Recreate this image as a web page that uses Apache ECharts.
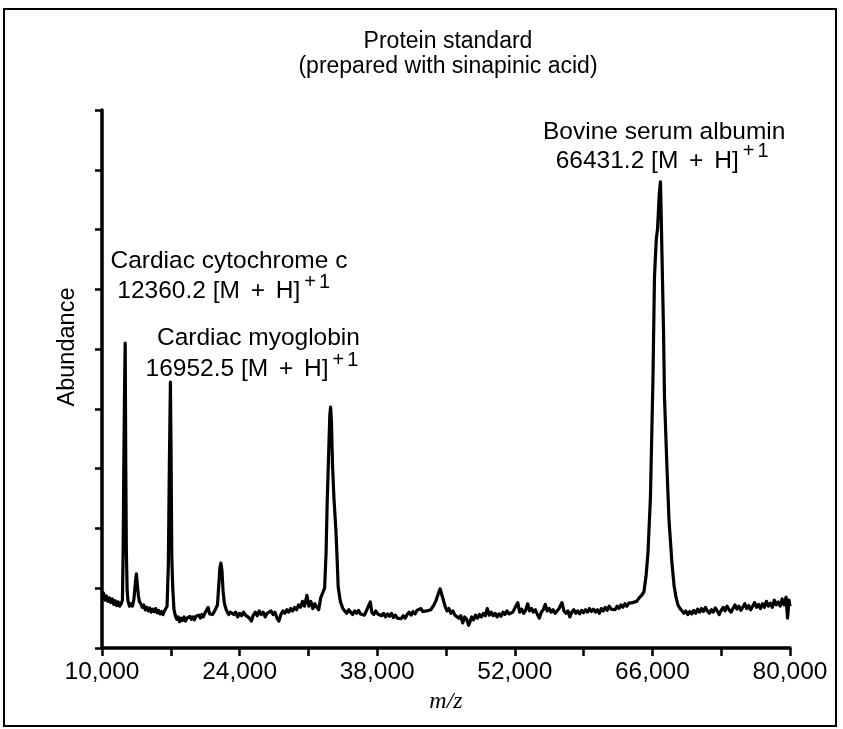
<!DOCTYPE html>
<html>
<head>
<meta charset="utf-8">
<script src="https://cdn.jsdelivr.net/npm/echarts@6/dist/echarts.min.js"></script>
<style>
html,body{margin:0;padding:0;background:#fff;}
#chart{width:843px;height:729px;}
</style>
</head>
<body>
<div id="chart"></div>
<script>
// m/z positions of the traced spectrum
const mz = [
10000,10150,10300,10450,10600,10750,10900,11050,11200,11350,11500,11650,11800,11950,
12080,12150,12230,12300,12360,12420,12480,12560,12650,12800,12950,13100,13250,13400,13500,13600,13700,13800,
13950,14100,14250,14400,14550,14700,14850,15000,15150,15300,15450,15600,15750,15900,16050,16200,16350,16500,
16620,16750,16850,16960,17030,17100,17200,17320,17450,
17600,17750,17900,18050,18200,18350,18500,18650,18800,18950,19100,19250,19400,19550,19700,19850,20000,20150,20300,20450,20600,20800,20950,21100,21250,21400,21550,
21750,21900,22000,22100,22200,22320,22450,22600,22750,22900,
23050,23200,23400,23600,23800,24000,24200,24400,24600,24800,25000,25200,25400,25600,25800,26000,26200,26400,26600,26800,27000,27200,27400,27600,27800,28000,28200,28400,28600,28800,29000,29200,29400,29600,29800,30000,30200,30400,30600,30850,31050,31250,31450,31650,31850,32050,
32250,32450,32650,32800,32910,33050,33180,33260,33340,33460,33600,33800,33920,34030,34250,34500,
34700,34900,35100,35300,35500,35700,35900,36100,36300,36500,36700,36900,37100,37300,37450,37650,37850,38050,38250,38450,38650,38850,39050,39250,39450,39650,39850,40050,40250,40450,40650,40850,41050,41250,41450,41650,41850,42050,42250,42450,42650,42850,43050,43250,43450,
43700,43950,44200,44400,44550,44700,44900,
45100,45300,45500,45700,45900,46100,46300,46500,46700,46900,47100,47300,47450,47600,47800,48000,48200,48400,48600,48800,49000,49200,49400,49600,49800,50000,50200,50400,50600,50800,51000,51200,51400,51600,51800,52000,52300,52500,52700,52900,53100,53300,53500,53700,53900,54100,54300,54500,54700,54900,55100,55300,55500,55700,55900,56100,56300,56500,56800,57000,57200,57400,57600,57800,58000,58200,58400,58600,58800,59000,59200,59400,59600,59800,60000,60200,60400,60600,60800,61000,61200,61400,61600,61800,62000,62200,62400,62600,62800,63000,63200,63400,63600,63800,64000,64200,
64400,64650,64900,65140,65350,65550,65800,66060,66210,66400,66520,66700,66820,66900,66980,67130,67230,67490,67690,67990,68200,68400,68600,68810,
69000,69200,69400,69600,69800,70000,70200,70400,70600,70800,71000,71200,71400,71600,71800,72000,72200,72400,72600,72800,73000,73200,73400,73600,73800,74000,74200,74400,74600,74800,75000,75200,75400,75600,75800,76000,76200,76400,76600,76800,77000,77200,77400,77600,77800,78000,78200,78400,78600,78800,79000,79200,79400,79600,79750,79900,80000
];
// abundance (arbitrary units, axis 0..9)
const abundance = [
0.85,0.92,0.80,0.87,0.78,0.84,0.76,0.82,0.73,0.79,0.71,0.77,0.70,0.74,
0.80,1.60,3.26,4.40,5.10,3.00,1.60,0.95,0.78,0.70,0.74,0.70,0.82,1.10,1.24,1.05,0.88,0.78,
0.74,0.68,0.72,0.64,0.68,0.62,0.67,0.60,0.65,0.61,0.66,0.59,0.63,0.57,0.61,0.56,0.62,0.60,
0.70,1.40,3.00,4.45,3.20,1.52,1.00,0.65,0.55,
0.48,0.52,0.44,0.50,0.46,0.52,0.45,0.50,0.47,0.53,0.48,0.52,0.47,0.53,0.50,0.55,0.50,0.56,0.52,0.58,0.55,0.68,0.57,0.60,0.56,0.60,0.58,
0.72,1.10,1.35,1.42,1.30,0.95,0.75,0.66,0.60,0.56,
0.60,0.62,0.56,0.60,0.52,0.58,0.54,0.60,0.55,0.58,0.50,0.45,0.55,0.60,0.54,0.62,0.56,0.60,0.52,0.58,0.55,0.62,0.56,0.60,0.50,0.45,0.56,0.62,0.58,0.64,0.60,0.66,0.62,0.68,0.64,0.72,0.68,0.78,0.70,0.88,0.70,0.78,0.66,0.74,0.68,0.64,
0.84,0.92,1.00,1.60,2.42,3.20,3.90,4.03,3.80,3.03,2.50,1.97,1.50,1.02,0.78,0.66,
0.62,0.58,0.64,0.60,0.56,0.62,0.58,0.63,0.57,0.60,0.55,0.62,0.60,0.77,0.60,0.56,0.62,0.57,0.60,0.54,0.58,0.52,0.57,0.53,0.58,0.51,0.55,0.50,0.53,0.49,0.54,0.50,0.56,0.60,0.55,0.61,0.57,0.63,0.60,0.66,0.61,0.58,0.62,0.60,0.64,
0.70,0.78,0.90,0.99,0.96,0.82,0.70,
0.62,0.66,0.58,0.62,0.55,0.58,0.50,0.54,0.42,0.52,0.48,0.38,0.44,0.52,0.47,0.55,0.50,0.56,0.52,0.58,0.54,0.66,0.55,0.60,0.54,0.58,0.52,0.57,0.53,0.60,0.56,0.62,0.57,0.54,0.60,0.58,0.76,0.60,0.65,0.58,0.63,0.74,0.62,0.66,0.60,0.64,0.56,0.50,0.60,0.64,0.73,0.62,0.66,0.60,0.64,0.58,0.62,0.66,0.76,0.62,0.58,0.62,0.52,0.60,0.64,0.58,0.62,0.57,0.63,0.59,0.64,0.60,0.66,0.61,0.65,0.60,0.64,0.58,0.66,0.62,0.68,0.63,0.70,0.65,0.68,0.64,0.70,0.66,0.72,0.68,0.74,0.70,0.75,0.72,0.76,0.74,
0.78,0.84,0.88,0.94,1.20,1.59,2.52,4.53,6.20,6.85,7.00,7.60,7.80,7.20,6.54,5.32,4.20,2.98,2.14,1.42,1.05,0.85,0.72,0.66,
0.64,0.58,0.62,0.56,0.61,0.57,0.63,0.58,0.65,0.60,0.66,0.61,0.68,0.62,0.58,0.64,0.60,0.67,0.62,0.56,0.63,0.68,0.62,0.70,0.64,0.60,0.66,0.72,0.65,0.70,0.63,0.68,0.74,0.66,0.71,0.64,0.70,0.76,0.68,0.73,0.66,0.74,0.68,0.78,0.70,0.75,0.68,0.80,0.72,0.77,0.70,0.82,0.72,0.85,0.50,0.80,0.70
];
// axis ticks and labels
const xTicks = [10000,17000,24000,31000,38000,45000,52000,59000,66000,73000,80000];
const xLabels = [10000,24000,38000,52000,66000,80000];
const titleLines = ['Protein standard','(prepared with sinapinic acid)'];
const annotationNames = ['Cardiac cytochrome c','Cardiac myoglobin','Bovine serum albumin'];
const annotationMasses = ['12360.2','16952.5','66431.2'];

const FONT = 'Liberation Sans';
const seriesData = mz.map((m,i)=>[m, abundance[i]]);
function fmt(v){ return String(v).replace(/\B(?=(\d{3})+(?!\d))/g, ','); }

const chart = echarts.init(document.getElementById('chart'), null, {renderer:'canvas'});
const txt = (x,y,text,size,align,extra)=>Object.assign({
  type:'text', x:x, y:y,
  style:{text:text, fill:'#000', font: size+'px "'+FONT+'"', align:align||'left', verticalAlign:'middle'}
}, extra||{});
const richMass = {
  v:{fontFamily:FONT, fontSize:24.5, lineHeight:32, color:'#000', verticalAlign:'bottom'},
  p:{fontFamily:FONT, fontSize:24.5, lineHeight:32, color:'#000', verticalAlign:'bottom', padding:[0,4,0,4]},
  s:{fontFamily:FONT, fontSize:20, lineHeight:21, color:'#000', verticalAlign:'top', padding:[0,0,0,4]},
  s1:{fontFamily:FONT, fontSize:20, lineHeight:21, color:'#000', verticalAlign:'top', padding:[0,0,0,3]}
};
const massText = (x,y,m)=>({
  type:'text', x:x, y:y,
  style:{text:'{v|'+m+' [M }{p|+}{v| H]}{s|+}{s1|1}', rich:richMass, align:'left', verticalAlign:'middle', fill:'#000'}
});

chart.setOption({
  animation:false,
  backgroundColor:'#fff',
  grid:{left:102, right:53, top:110, bottom:81},
  xAxis:{
    type:'value', min:10000, max:80000,
    axisLine:{show:true, lineStyle:{color:'#000', width:3.5}},
    axisTick:{show:true, inside:false, length:8, lineStyle:{color:'#000', width:2.5}, customValues: xTicks},
    axisLabel:{show:true, color:'#000', fontFamily:FONT, fontSize:24.5, margin:12, customValues: xLabels, formatter: fmt},
    splitLine:{show:false},
    name:'m/z', nameLocation:'middle', nameGap:33,
    nameTextStyle:{fontFamily:'Liberation Serif', fontStyle:'italic', fontSize:24, color:'#000'}
  },
  yAxis:{
    type:'value', min:0, max:9, interval:1,
    axisLine:{show:true, lineStyle:{color:'#000', width:3.5}},
    axisTick:{show:true, inside:false, length:7, lineStyle:{color:'#000', width:2.5}},
    axisLabel:{show:false},
    splitLine:{show:false}
  },
  series:[{
    type:'line', data:seriesData, showSymbol:false, symbol:'none',
    lineStyle:{color:'#000', width:3.2, join:'round'},
    clip:true
  }],
  graphic:[
    {type:'rect', shape:{x:4, y:9, width:832, height:717}, style:{fill:'none', stroke:'#000', lineWidth:2}},
    txt(448, 42, titleLines[0], 23, 'center'),
    txt(448, 67, titleLines[1], 23, 'center'),
    txt(68, 347, 'Abundance', 23.5, 'center', {rotation: Math.PI/2}),
    txt(110.5, 261, annotationNames[0], 24.5, 'left'),
    massText(117.3, 288, annotationMasses[0]),
    txt(157, 338.5, annotationNames[1], 24.5, 'left'),
    massText(145.6, 366, annotationMasses[1]),
    txt(543, 132.5, annotationNames[2], 24.5, 'left'),
    massText(555.7, 157.5, annotationMasses[2])
  ]
});
</script>
</body>
</html>
